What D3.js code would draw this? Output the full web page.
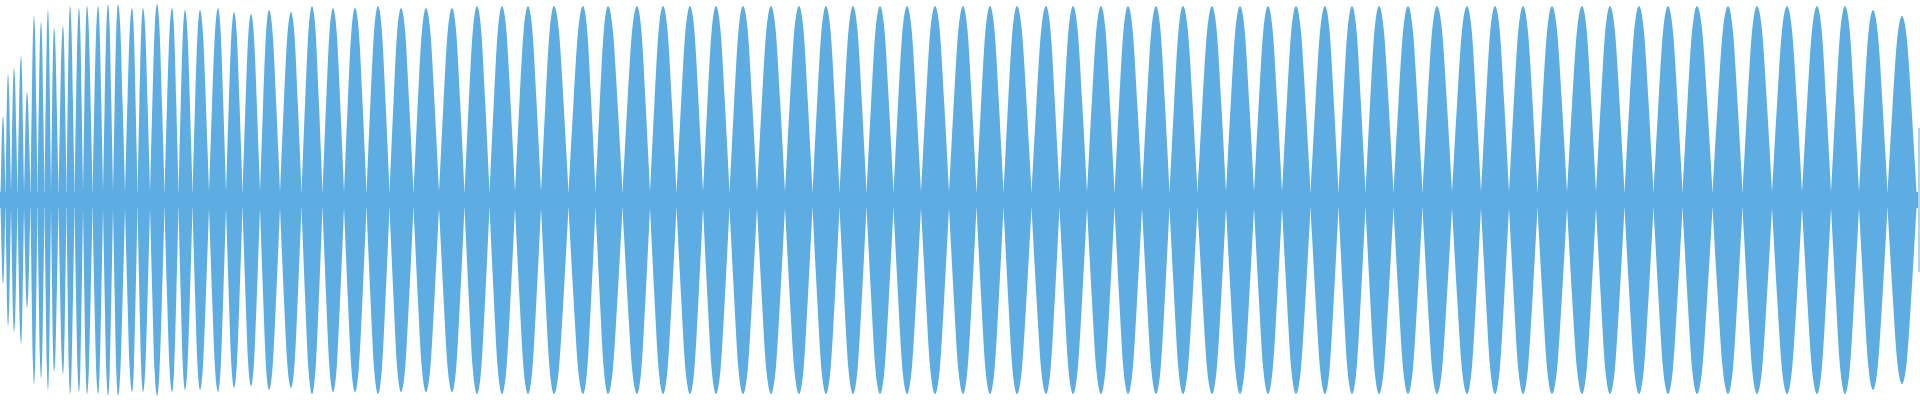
<!DOCTYPE html>
<html><head><meta charset="utf-8">
<script src="https://cdn.jsdelivr.net/npm/d3@7"></script>
<style>html,body{margin:0;padding:0;background:#fff;}svg{display:block}</style>
</head><body>
<svg id="c" width="1920" height="400"></svg>
<script>
// Lobe (beat) centers along the time axis
const lobeCenters = [3,8,14,21,27,34,41,48,54,63,70,79,87,98,108,118,132,143,157,172,185,
  200,218,234,251,269,291,312,333,355,378,401,426,452,477,502,528,554,583,
  608,637,663,690,716,743,771,799,826,853,880,907,935,963,990,
  1017,1046,1073,1101,1128,1156,1183,1212,1240,1268,1296,1325,1352,1379,1408,
  1437,1467,1495,1523,1552,1582,1610,1639,1668,1697,1728,1757,1787,1817,1845,1873,1902];
// Peak amplitude of each lobe (fraction of full scale)
const lobeAmps = [0.42,0.63,0.66,0.72,0.54,0.92,0.89,0.95,0.86,0.87,0.97,0.96,0.97,0.97,0.98,0.98,0.96,0.96,0.98,0.96,0.95,
  0.95,0.96,0.94,0.93,0.95,0.94,0.97,0.96,0.96,0.97,0.96,0.96,0.96,0.97,0.97,0.97,0.97,0.97,
  0.97,0.97,0.97,0.97,0.97,0.97,0.97,0.97,0.97,0.97,0.97,0.97,0.97,0.97,0.97,
  0.97,0.97,0.97,0.97,0.97,0.97,0.97,0.97,0.97,0.97,0.97,0.97,0.97,0.97,0.97,
  0.97,0.97,0.97,0.97,0.97,0.97,0.97,0.97,0.97,0.97,0.97,0.97,0.97,0.97,0.97,0.95,0.92];
const bandAmp = 0.04;   // residual amplitude between lobes
// lobe profile: [fraction across lobe, fraction of peak]
const lobeProfile = [[0,0],[0.08,0.26],[0.17,0.5],[0.33,0.87],[0.42,0.97],[0.5,1],[0.58,0.97],[0.67,0.87],[0.83,0.5],[0.92,0.26],[1,0]];
const xDomain = [0, 1920];

const svg = d3.select('#c');
const x = d3.scaleLinear().domain(xDomain).range([0,1920]);
const y = d3.scaleLinear().domain([-1,1]).range([400,0]);
const color = '#5dade2';

const bounds = lobeCenters.map((c,i)=>{
  const prev = i>0 ? (lobeCenters[i-1]+c)/2 : Math.max(0, c-(lobeCenters[1]-lobeCenters[0])/2);
  const next = i<lobeCenters.length-1 ? (lobeCenters[i+1]+c)/2 : Math.min(1918, c+(c-lobeCenters[i-1])/2);
  return [prev,next];
});

const area = d3.area().x(d=>x(d[0])).y0(d=>y(-d[1])).y1(d=>y(d[1])).curve(d3.curveMonotoneX);

svg.append('path').attr('fill',color).attr('d', area([[0,bandAmp],[1918,bandAmp]]));

lobeCenters.forEach((c,i)=>{
  const [a,b] = bounds[i];
  const pts = lobeProfile.map(([f,g])=>{
    const px = f<=0.5 ? a+(c-a)*f*2 : c+(b-c)*(f-0.5)*2;
    return [px, Math.max(bandAmp, lobeAmps[i]*g)];
  });
  svg.append('path').attr('fill',color).attr('d', area(pts));
});
svg.append('line').attr('x1',x(1919)).attr('x2',x(1919)).attr('y1',y(0.36)).attr('y2',y(-0.36))
  .attr('stroke',color).attr('stroke-width',1);
</script>
</body></html>
